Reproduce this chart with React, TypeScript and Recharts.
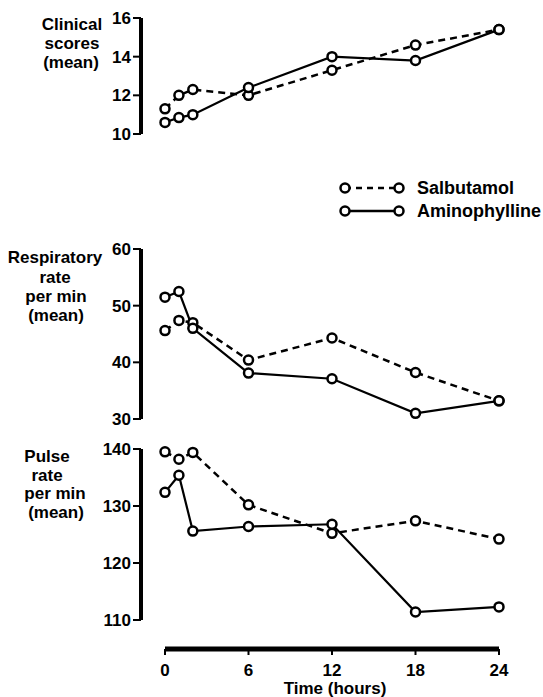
import React from "react";
import { LineChart, Line, XAxis, YAxis, Legend } from "recharts";

const hours = [0, 1, 2, 6, 12, 18, 24];
const clinicalSalbutamol = [11.3, 12.0, 12.3, 12.0, 13.3, 14.6, 15.4];
const clinicalAminophylline = [10.6, 10.85, 11.0, 12.4, 14.0, 13.8, 15.4];
const respSalbutamol = [45.6, 47.4, 47.0, 40.4, 44.3, 38.2, 33.2];
const respAminophylline = [51.5, 52.5, 46.0, 38.1, 37.1, 31.0, 33.2];
const pulseSalbutamol = [139.5, 138.2, 139.4, 130.2, 125.2, 127.4, 124.2];
const pulseAminophylline = [132.4, 135.4, 125.6, 126.4, 126.8, 111.4, 112.3];

const clinicalTicks = [10, 12, 14, 16];
const respTicks = [30, 40, 50, 60];
const pulseTicks = [110, 120, 130, 140];
const timeTicks = [0, 6, 12, 18, 24];

const seriesNames = ["Salbutamol", "Aminophylline"];

const build = (a: number[], b: number[]) =>
  hours.map((t, i) => ({ t, sal: a[i], ami: b[i] }));

const clinicalData = build(clinicalSalbutamol, clinicalAminophylline);
const respData = build(respSalbutamol, respAminophylline);
const pulseData = build(pulseSalbutamol, pulseAminophylline);

const FONT = "'Liberation Sans', Arial, Helvetica, sans-serif";
const WEIGHT = 600;
const W = 543;
const LEFT = 141;
const RIGHT = 44;
const PADL = 24;

const tickStyle = { fill: "#000", fontSize: 17, fontFamily: FONT, fontWeight: WEIGHT };

const renderDot = (props: any) => {
  const { cx, cy, index } = props;
  if (cx == null || cy == null) return <g key={index} />;
  return <circle key={index} cx={cx} cy={cy} r={4.5} fill="#fff" stroke="#000" strokeWidth={2.5} />;
};

function LegendContent() {
  const row = (y: number, dashed: boolean, label: string) => (
    <g key={label}>
      <line x1={10} y1={y} x2={64} y2={y} stroke="#000" strokeWidth={2.5} strokeDasharray={dashed ? "6 5" : undefined} />
      <circle cx={10} cy={y} r={4.5} fill="#fff" stroke="#000" strokeWidth={2.5} />
      <circle cx={64} cy={y} r={4.5} fill="#fff" stroke="#000" strokeWidth={2.5} />
      <text x={82} y={y + 6} fontSize={18} fontFamily={FONT} fontWeight={WEIGHT} fill="#000">{label}</text>
    </g>
  );
  return (
    <svg width={210} height={50}>
      {row(10, true, seriesNames[0])}
      {row(33, false, seriesNames[1])}
    </svg>
  );
}

function Panel({ data, ticks, top, height, mt, mb, legend }: any) {
  return (
    <div style={{ position: "absolute", left: 0, top }}>
      <LineChart width={W} height={height} data={data} margin={{ top: mt, bottom: mb, left: LEFT - 40, right: RIGHT }} style={{ overflow: "visible" }}>
        <XAxis dataKey="t" type="number" domain={[0, 24]} hide padding={{ left: PADL, right: 0 }} />
        <YAxis
          type="number"
          domain={[ticks[0], ticks[ticks.length - 1]]}
          ticks={ticks}
          width={40}
          axisLine={{ stroke: "#000", strokeWidth: 4 }}
          tickLine={{ stroke: "#000", strokeWidth: 2 }}
          tickSize={8}
          tickMargin={2}
          tick={tickStyle}
          interval={0}
        />
        <Line dataKey="sal" name={seriesNames[0]} stroke="#000" strokeWidth={2.5} strokeDasharray="7 5" dot={renderDot} isAnimationActive={false} />
        <Line dataKey="ami" name={seriesNames[1]} stroke="#000" strokeWidth={2.2} dot={renderDot} isAnimationActive={false} />
        {legend && (
          <Legend content={<LegendContent />} wrapperStyle={{ position: "absolute", left: 335, top: 178, width: 210 }} />
        )}
      </LineChart>
    </div>
  );
}

function TextLines({ lines }: { lines: [string, number, number][] }) {
  return (
    <>
      {lines.map(([s, cx, cy], i) => (
        <div
          key={i}
          style={{
            position: "absolute",
            left: cx - 60,
            top: cy - 10,
            width: 120,
            height: 20,
            lineHeight: "20px",
            textAlign: "center",
            fontFamily: FONT,
            fontWeight: WEIGHT,
            fontSize: 17,
            color: "#000",
            whiteSpace: "nowrap",
          }}
        >
          {s}
        </div>
      ))}
    </>
  );
}

export default function App() {
  return (
    <div style={{ position: "absolute", left: 0, top: 0, width: W, height: 697, background: "#fff", overflow: "hidden" }}>
      <Panel data={clinicalData} ticks={clinicalTicks} top={0} height={230} mt={18} mb={42} legend />
      <Panel data={respData} ticks={respTicks} top={230} height={200} mt={19} mb={11} />
      <Panel data={pulseData} ticks={pulseTicks} top={430} height={200} mt={19} mb={10} />
      <div style={{ position: "absolute", left: 0, top: 630 }}>
        <LineChart width={W} height={67} data={pulseData} margin={{ top: 0, bottom: 0, left: LEFT + PADL, right: RIGHT }} style={{ overflow: "visible" }}>
          <YAxis hide domain={[0, 1]} />
          <XAxis
            dataKey="t"
            type="number"
            domain={[0, 24]}
            ticks={timeTicks}
            interval={0}
            height={48}
            axisLine={{ stroke: "#000", strokeWidth: 5 }}
            tickLine={{ stroke: "#000", strokeWidth: 2 }}
            tickSize={6}
            tickMargin={9}
            tick={tickStyle}
          />
        </LineChart>
      </div>
      <TextLines lines={[["Clinical", 72, 25], ["scores", 72, 44], ["(mean)", 71, 63]]} />
      <TextLines lines={[["Respiratory", 55, 258], ["rate", 55, 278], ["per min", 56, 297], ["(mean)", 56, 316]]} />
      <TextLines lines={[["Pulse", 47, 457], ["rate", 47, 476], ["per min", 55, 494], ["(mean)", 56, 513]]} />
      <TextLines lines={[["Time (hours)", 335, 689]]} />
    </div>
  );
}
